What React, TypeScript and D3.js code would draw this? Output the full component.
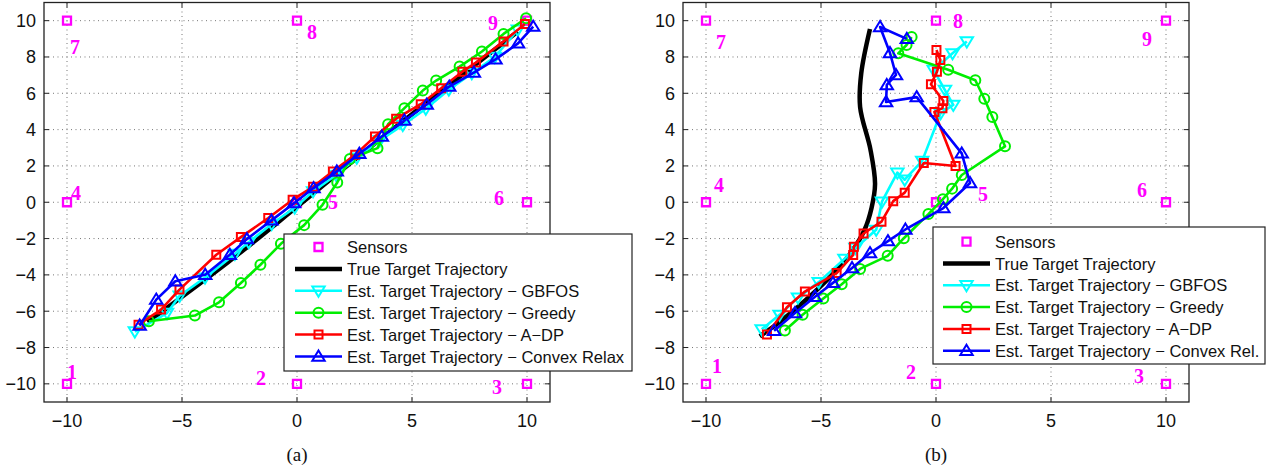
import React from "react";
import * as d3 from "d3";

type P = [number, number];

// ---------- DATA ----------
const sensorPos: P[] = [
  [-10, -10], [0, -10], [10, -10],
  [-10, 0], [0, 0], [10, 0],
  [-10, 10], [0, 10], [10, 10],
];
const sensorIds = ["1", "2", "3", "4", "5", "6", "7", "8", "9"];

const xTicks = [-10, -5, 0, 5, 10];
const yTicks = [-10, -8, -6, -4, -2, 0, 2, 4, 6, 8, 10];

const legendA = [
  "Sensors",
  "True Target Trajectory",
  "Est. Target Trajectory \u2212 GBFOS",
  "Est. Target Trajectory \u2212 Greedy",
  "Est. Target Trajectory \u2212 A\u2212DP",
  "Est. Target Trajectory \u2212 Convex Relax",
];
const legendB = [
  "Sensors",
  "True Target Trajectory",
  "Est. Target Trajectory \u2212 GBFOS",
  "Est. Target Trajectory \u2212 Greedy",
  "Est. Target Trajectory \u2212 A\u2212DP",
  "Est. Target Trajectory \u2212 Convex Rel.",
];

// Panel (a)
const trueA: P[] = [[-6.5, -6.6], [-3, -3.3], [0, -0.25], [3, 2.85], [6, 5.85], [9.6, 9.4]];
const gbfosA: P[] = [
  [-7.05, -7.12], [-5.65, -6.1], [-5.1, -5.15], [-4.0, -4.15], [-2.7, -2.85], [-2.1, -2.2],
  [-1.1, -1.2], [-0.1, -0.3], [0.7, 0.6], [1.7, 1.5], [2.6, 2.45], [3.6, 3.4], [4.6, 4.25],
  [5.6, 5.15], [6.6, 6.2], [7.6, 7.1], [8.6, 8.0], [9.6, 9.5],
];
const greedyA: P[] = [
  [-6.44, -6.55], [-4.44, -6.24], [-3.39, -5.51], [-2.44, -4.45], [-1.59, -3.44], [-0.7, -2.29],
  [0.31, -1.26], [1.11, -0.14], [1.75, 1.09], [2.3, 2.38], [3.5, 2.98], [3.96, 4.3], [4.67, 5.18],
  [5.47, 6.15], [6.05, 6.7], [7.07, 7.47], [8.04, 8.3], [8.98, 9.27], [9.96, 10.13],
];
const adpA: P[] = [
  [-6.89, -6.74], [-5.91, -5.91], [-5.11, -4.81], [-3.51, -2.89], [-2.44, -1.92], [-1.25, -0.87],
  [-0.19, 0.14], [0.7, 0.85], [1.56, 1.7], [2.53, 2.61], [3.39, 3.62], [4.31, 4.6], [5.38, 5.4],
  [6.27, 6.28], [7.19, 7.19], [7.78, 7.69], [8.98, 8.85], [9.91, 9.82],
];
const convexA: P[] = [
  [-6.84, -6.79], [-6.12, -5.36], [-5.29, -4.35], [-3.99, -3.99], [-2.92, -2.89], [-2.18, -2.03],
  [-1.11, -1.0], [-0.13, -0.05], [0.72, 0.78], [1.73, 1.7], [2.71, 2.67], [3.69, 3.62], [4.67, 4.5],
  [5.64, 5.38], [6.62, 6.37], [7.69, 7.14], [8.63, 7.87], [9.61, 8.75], [10.27, 9.67],
];

// Panel (b)
const trueB: P[] = [
  [-7.66, -7.38], [-6.8, -6.6], [-5.5, -5.2], [-4.3, -3.7], [-3.6, -2.6], [-3.1, -1.5],
  [-2.8, -0.3], [-2.65, 1.0], [-2.85, 2.9], [-3.3, 5.25], [-3.25, 7.1], [-2.87, 9.54],
];
const gbfosB: P[] = [
  [-7.58, -7.0], [-6.8, -6.2], [-6.0, -5.25], [-5.1, -4.4], [-3.98, -3.12], [-3.5, -2.52],
  [-2.6, -1.52], [-2.35, 0.03], [-1.68, 1.63], [-1.36, 1.24], [-0.6, 2.28], [0.2, 4.9],
  [0.75, 5.36], [0.39, 6.18], [-0.1, 7.28], [0.72, 8.2], [1.34, 8.85],
];
const greedyB: P[] = [
  [-6.57, -7.06], [-5.8, -6.2], [-4.9, -5.3], [-4.1, -4.52], [-3.3, -3.67], [-2.1, -2.95],
  [-1.4, -1.98], [-0.33, -0.65], [0.3, 0.17], [0.7, 0.75], [1.12, 1.5], [3.0, 3.08],
  [2.45, 4.69], [2.1, 5.7], [1.71, 6.72], [0.53, 7.3], [-1.64, 8.2], [-1.28, 8.66], [-1.06, 9.1],
];
const adpB: P[] = [
  [-7.35, -7.28], [-6.48, -5.78], [-5.7, -4.92], [-4.32, -3.9], [-3.6, -2.9], [-3.57, -2.45],
  [-3.15, -1.72], [-2.37, -1.07], [-1.86, 0.06], [-1.36, 0.53], [-0.53, 2.16], [0.85, 2.0],
  [-0.07, 4.97], [0.28, 5.18], [0.32, 5.58], [-0.22, 6.5], [0.04, 7.18], [0.19, 7.83], [0.02, 8.38],
];
const convexB: P[] = [
  [-7.04, -7.08], [-6.13, -6.1], [-5.26, -5.2], [-4.48, -4.44], [-3.65, -3.62], [-2.87, -2.8],
  [-2.09, -2.14], [-1.33, -1.5], [0.32, -0.32], [1.48, 1.06], [1.12, 2.69], [-0.84, 5.79],
  [-2.17, 5.52], [-2.14, 6.46], [-1.74, 7.01], [-2.0, 8.22], [-2.43, 9.65], [-1.27, 9.0],
];

// ---------- STYLE ----------
const C = {
  sensor: "#ff00ff",
  truth: "#000000",
  gbfos: "#00ffff",
  greedy: "#00ee00",
  adp: "#ff0000",
  convex: "#0000ff",
};
const SANS = "'Liberation Sans', Arial, Helvetica, sans-serif";
const SERIF = "'Liberation Serif', 'Times New Roman', serif";

type Marker = "tri-down" | "tri-up" | "circle" | "square" | "none";

function markerPath(m: Marker): string {
  switch (m) {
    case "tri-down":
      return "M0,6 L6.2,-4.2 L-6.2,-4.2 Z";
    case "tri-up":
      return "M0,-6 L6.2,4.2 L-6.2,4.2 Z";
    case "square":
      return "M-4,-4 H4 V4 H-4 Z";
    case "circle":
      return "M5,0 A5,5 0 1,1 -5,0 A5,5 0 1,1 5,0 Z";
    default:
      return "";
  }
}

function MarkerShape({ m, x, y, color, sw = 1.8 }: { m: Marker; x: number; y: number; color: string; sw?: number }) {
  if (m === "none") return null;
  return (
    <path
      d={markerPath(m)}
      transform={`translate(${x},${y})`}
      fill="none"
      stroke={color}
      strokeWidth={sw}
    />
  );
}

interface Panel {
  x0: number;
  x1: number;
  caption: string;
  legend: string[];
  legendBox: { x: number; y: number; w: number; h: number; row0: number; rowH: number; lineX0: number; lineX1: number; textX: number };
  labelOffsets: [number, number][];
  truth: P[];
  series: { data: P[]; color: string; marker: Marker }[];
}

const panels: Panel[] = [
  {
    x0: 44,
    x1: 550,
    caption: "(a)",
    legend: legendA,
    legendBox: { x: 284, y: 234, w: 348, h: 137, row0: 247, rowH: 21.9, lineX0: 295, lineX1: 342, textX: 347 },
    labelOffsets: [[5, -12], [-36, -6], [-30, 3], [9, -9], [36, 0], [-28, -4], [8, 26], [15, 11], [-34, 2]],
    truth: trueA,
    series: [
      { data: gbfosA, color: C.gbfos, marker: "tri-down" },
      { data: greedyA, color: C.greedy, marker: "circle" },
      { data: adpA, color: C.adp, marker: "square" },
      { data: convexA, color: C.convex, marker: "tri-up" },
    ],
  },
  {
    x0: 683,
    x1: 1189,
    caption: "(b)",
    legend: legendB,
    legendBox: { x: 933, y: 227, w: 332, h: 137, row0: 241.7, rowH: 21.8, lineX0: 943, lineX1: 990, textX: 995 },
    labelOffsets: [[11, -18], [-25, -12], [-27, -8], [13, -17], [47, -8], [-24, -12], [15, 21], [22, 0], [-19, 18]],
    truth: trueB,
    series: [
      { data: gbfosB, color: C.gbfos, marker: "tri-down" },
      { data: greedyB, color: C.greedy, marker: "circle" },
      { data: adpB, color: C.adp, marker: "square" },
      { data: convexB, color: C.convex, marker: "tri-up" },
    ],
  },
];

const Y0 = 402;
const Y1 = 2.5;

function PanelView({ p }: { p: Panel }) {
  const x = d3.scaleLinear().domain([-11, 11]).range([p.x0, p.x1]);
  const y = d3.scaleLinear().domain([-11, 11]).range([Y0, Y1]);
  const line = d3
    .line<P>()
    .x((d) => x(d[0]))
    .y((d) => y(d[1]));
  const smooth = d3
    .line<P>()
    .x((d) => x(d[0]))
    .y((d) => y(d[1]))
    .curve(d3.curveCatmullRom.alpha(0.5));
  const lb = p.legendBox;
  const legendItems: { color: string; marker: Marker; line: boolean; width: number }[] = [
    { color: C.sensor, marker: "square", line: false, width: 0 },
    { color: C.truth, marker: "none", line: true, width: 4.5 },
    { color: C.gbfos, marker: "tri-down", line: true, width: 2.5 },
    { color: C.greedy, marker: "circle", line: true, width: 2.5 },
    { color: C.adp, marker: "square", line: true, width: 2.5 },
    { color: C.convex, marker: "tri-up", line: true, width: 2.5 },
  ];
  const tl = 5;
  const fmt = (t: number) => (t < 0 ? "\u2212" + Math.abs(t) : String(t));
  return (
    <g>
      <rect x={p.x0} y={Y1} width={p.x1 - p.x0} height={Y0 - Y1} fill="#fff" />
      {/* grid */}
      {xTicks.map((t) => (
        <line key={"gx" + t} x1={x(t)} x2={x(t)} y1={Y1} y2={Y0} stroke="#777" strokeWidth={1} strokeDasharray="1,3.5" />
      ))}
      {yTicks.map((t) => (
        <line key={"gy" + t} x1={p.x0} x2={p.x1} y1={y(t)} y2={y(t)} stroke="#777" strokeWidth={1} strokeDasharray="1,3.5" />
      ))}
      {/* ticks */}
      {xTicks.map((t) => (
        <g key={"tx" + t}>
          <line x1={x(t)} x2={x(t)} y1={Y0} y2={Y0 - tl} stroke="#222" strokeWidth={1} />
          <line x1={x(t)} x2={x(t)} y1={Y1} y2={Y1 + tl} stroke="#222" strokeWidth={1} />
          <text x={x(t)} y={427} textAnchor="middle" fontFamily={SANS} fontSize={18} fill="#111">
            {fmt(t)}
          </text>
        </g>
      ))}
      {yTicks.map((t) => (
        <g key={"ty" + t}>
          <line x1={p.x0} x2={p.x0 + tl} y1={y(t)} y2={y(t)} stroke="#222" strokeWidth={1} />
          <line x1={p.x1} x2={p.x1 - tl} y1={y(t)} y2={y(t)} stroke="#222" strokeWidth={1} />
          <text x={p.x0 - 8} y={y(t) + 6.5} textAnchor="end" fontFamily={SANS} fontSize={18} fill="#111">
            {fmt(t)}
          </text>
        </g>
      ))}
      {/* sensors */}
      {sensorPos.map((s, i) => (
        <g key={"s" + i}>
          <MarkerShape m="square" x={x(s[0])} y={y(s[1])} color={C.sensor} sw={2.3} />
          <text
            x={x(s[0]) + p.labelOffsets[i][0]}
            y={y(s[1]) + p.labelOffsets[i][1] + 7}
            textAnchor="middle"
            fontFamily={SERIF}
            fontSize={20}
            fontWeight="bold"
            fill={C.sensor}
          >
            {sensorIds[i]}
          </text>
        </g>
      ))}
      {/* true trajectory */}
      <path d={smooth(p.truth) || ""} fill="none" stroke={C.truth} strokeWidth={4.5} strokeLinejoin="round" />
      {/* estimated series */}
      {p.series.map((s, si) => (
        <g key={"ser" + si}>
          <path d={line(s.data) || ""} fill="none" stroke={s.color} strokeWidth={2.6} strokeLinejoin="round" />
          {s.data.map((d, i) => (
            <MarkerShape key={i} m={s.marker} x={x(d[0])} y={y(d[1])} color={s.color} sw={2} />
          ))}
        </g>
      ))}
      {/* frame */}
      <rect x={p.x0} y={Y1} width={p.x1 - p.x0} height={Y0 - Y1} fill="none" stroke="#222" strokeWidth={1.3} />
      {/* legend */}
      <rect x={lb.x} y={lb.y} width={lb.w} height={lb.h} fill="#fff" stroke="#222" strokeWidth={1.2} />
      {p.legend.map((label, i) => {
        const cy = lb.row0 + i * lb.rowH;
        const it = legendItems[i];
        const cx = (lb.lineX0 + lb.lineX1) / 2;
        return (
          <g key={"lg" + i}>
            {it.line && (
              <line x1={lb.lineX0} x2={lb.lineX1} y1={cy} y2={cy} stroke={it.color} strokeWidth={it.width} />
            )}
            <MarkerShape m={it.marker} x={cx} y={cy} color={it.color} sw={i === 0 ? 2.3 : 2} />
            <text x={lb.textX} y={cy + 6} fontFamily={SANS} fontSize={16.5} fill="#111">
              {label}
            </text>
          </g>
        );
      })}
      {/* caption */}
      <text x={x(0)} y={461} textAnchor="middle" fontFamily={SERIF} fontSize={19} fill="#111">
        {p.caption}
      </text>
    </g>
  );
}

export default function App() {
  return (
    <svg
      width={1275}
      height={470}
      viewBox="0 0 1275 470"
      style={{ position: "absolute", left: 0, top: 0, background: "#fff" }}
    >
      <rect x={0} y={0} width={1275} height={470} fill="#fff" />
      {panels.map((p, i) => (
        <PanelView key={i} p={p} />
      ))}
    </svg>
  );
}
